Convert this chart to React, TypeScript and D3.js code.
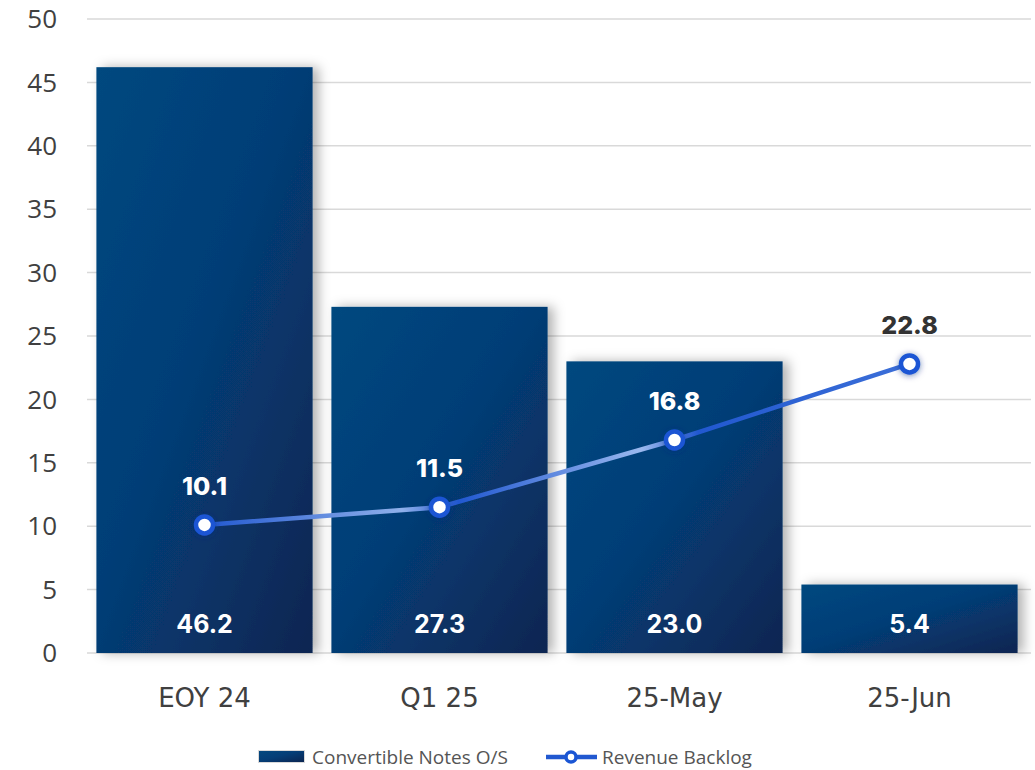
import React, { useRef, useEffect } from "react";
import * as d3 from "d3";

const categories = ["EOY 24", "Q1 25", "25-May", "25-Jun"];
const notesOS = [46.2, 27.3, 23.0, 5.4];
const revenueBacklog = [10.1, 11.5, 16.8, 22.8];
const yTicks = [0, 5, 10, 15, 20, 25, 30, 35, 40, 45, 50];

const App = () => {
  const svgRef = useRef<SVGSVGElement>(null);

  useEffect(() => {
    const svg = d3.select(svgRef.current);
    svg.selectAll("*").remove();

    const W = 1035;
    const H = 770;
    const margin = { top: 19, right: 8, bottom: 117, left: 87 };
    const height = H - margin.top - margin.bottom;

    const x = d3
      .scaleBand()
      .domain(categories)
      .range([margin.left, W - margin.right])
      .paddingInner(0.08)
      .paddingOuter(0.04);
    const y = d3.scaleLinear().domain([0, 50]).range([margin.top + height, margin.top]);

    const defs = svg.append("defs");
    const barGrad = defs
      .append("linearGradient")
      .attr("id", "barGrad")
      .attr("x1", "0")
      .attr("y1", "0")
      .attr("x2", "1")
      .attr("y2", "1");
    barGrad.append("stop").attr("offset", "0%").attr("stop-color", "#04487f");
    barGrad.append("stop").attr("offset", "45%").attr("stop-color", "#053e77");
    barGrad.append("stop").attr("offset", "100%").attr("stop-color", "#0b2551");

    const shadow = defs.append("filter").attr("id", "shadow").attr("x", "-20%").attr("y", "-20%").attr("width", "150%").attr("height", "140%");
    shadow.append("feDropShadow").attr("dx", 6).attr("dy", 0).attr("stdDeviation", 6).attr("flood-color", "#000").attr("flood-opacity", 0.3);

    const glow = defs.append("filter").attr("id", "glow").attr("x", "-100%").attr("y", "-100%").attr("width", "300%").attr("height", "300%");
    glow.append("feDropShadow").attr("dx", 0).attr("dy", 1).attr("stdDeviation", 3).attr("flood-color", "#0a2a80").attr("flood-opacity", 0.55);

    const lineGrad = defs
      .append("linearGradient")
      .attr("id", "lineGrad")
      .attr("gradientUnits", "userSpaceOnUse")
      .attr("x1", x(categories[0])! + x.bandwidth() / 2)
      .attr("x2", x(categories[3])! + x.bandwidth() / 2)
      .attr("y1", 0)
      .attr("y2", 0);
    [
      [0, "#2158d0"],
      [0.28, "#8fb0ea"],
      [0.36, "#2158d0"],
      [0.62, "#9ab8ee"],
      [0.7, "#2158d0"],
      [1, "#3c6fd8"],
    ].forEach(([o, c]) => lineGrad.append("stop").attr("offset", o as number).attr("stop-color", c as string));

    // gridlines
    svg
      .append("g")
      .selectAll("line")
      .data(yTicks)
      .join("line")
      .attr("x1", margin.left)
      .attr("x2", W - 4)
      .attr("y1", (d) => y(d))
      .attr("y2", (d) => y(d))
      .attr("stroke", "#d9d9d9")
      .attr("stroke-width", 1.5);

    // y labels
    svg
      .append("g")
      .selectAll("text")
      .data(yTicks)
      .join("text")
      .attr("x", 57)
      .attr("y", (d) => y(d))
      .attr("dy", "0.35em")
      .attr("text-anchor", "end")
      .attr("font-family", "'Open Sans', sans-serif")
      .attr("font-size", 26)
      .attr("fill", "#404040")
      .text((d) => d);

    // bars
    svg
      .append("g")
      .selectAll("rect")
      .data(notesOS)
      .join("rect")
      .attr("x", (d, i) => x(categories[i])!)
      .attr("y", (d) => y(d))
      .attr("width", x.bandwidth())
      .attr("height", (d) => y(0) - y(d))
      .attr("fill", "url(#barGrad)")
      .attr("filter", "url(#shadow)");

    // bar labels
    svg
      .append("g")
      .selectAll("text")
      .data(notesOS)
      .join("text")
      .attr("x", (d, i) => x(categories[i])! + x.bandwidth() / 2)
      .attr("y", y(0) - 20)
      .attr("text-anchor", "middle")
      .attr("font-family", "Inter, sans-serif")
      .attr("font-weight", 700)
      .attr("font-size", 25)
      .attr("fill", "#ffffff")
      .text((d) => d.toFixed(1));

    // x labels
    svg
      .append("g")
      .selectAll("text")
      .data(categories)
      .join("text")
      .attr("x", (d) => x(d)! + x.bandwidth() / 2)
      .attr("y", 707)
      .attr("text-anchor", "middle")
      .attr("font-family", "'DejaVu Sans', sans-serif")
      .attr("font-size", 26)
      .attr("fill", "#404040")
      .text((d) => d);

    // line
    const line = d3
      .line<number>()
      .x((d, i) => x(categories[i])! + x.bandwidth() / 2)
      .y((d) => y(d));
    svg
      .append("path")
      .datum(revenueBacklog)
      .attr("d", line)
      .attr("fill", "none")
      .attr("stroke", "url(#lineGrad)")
      .attr("stroke-width", 4.5);

    svg
      .append("g")
      .selectAll("circle")
      .data(revenueBacklog)
      .join("circle")
      .attr("cx", (d, i) => x(categories[i])! + x.bandwidth() / 2)
      .attr("cy", (d) => y(d))
      .attr("r", 8.5)
      .attr("fill", "#ffffff")
      .attr("stroke", "#1a55d4")
      .attr("stroke-width", 4.5)
      .attr("filter", "url(#glow)");

    svg
      .append("g")
      .selectAll("text")
      .data(revenueBacklog)
      .join("text")
      .attr("x", (d, i) => x(categories[i])! + x.bandwidth() / 2)
      .attr("y", (d) => y(d) - 30)
      .attr("text-anchor", "middle")
      .attr("font-family", "Inter, sans-serif")
      .attr("font-weight", 800)
      .attr("font-size", 25)
      .attr("fill", (d, i) => (revenueBacklog[i] > notesOS[i] ? "#333333" : "#ffffff"))
      .text((d) => d.toFixed(1));

    // legend
    const lg = svg.append("g").attr("font-family", "'Open Sans', sans-serif").attr("font-size", 19).attr("fill", "#555555");
    lg.append("rect").attr("x", 258).attr("y", 750).attr("width", 47).attr("height", 13).attr("fill", "#d9d9d9");
    lg.append("rect").attr("x", 259).attr("y", 751).attr("width", 45).attr("height", 11).attr("fill", "url(#barGrad)");
    lg.append("text").attr("x", 312).attr("y", 757).attr("dy", "0.35em").text("Convertible Notes O/S");
    lg.append("line").attr("x1", 546).attr("x2", 597).attr("y1", 757).attr("y2", 757).attr("stroke", "#2158d0").attr("stroke-width", 4.5);
    lg.append("circle").attr("cx", 571).attr("cy", 757).attr("r", 5).attr("fill", "#fff").attr("stroke", "#1a55d4").attr("stroke-width", 3.5);
    lg.append("text").attr("x", 602).attr("y", 757).attr("dy", "0.35em").text("Revenue Backlog");
  }, []);

  return <svg ref={svgRef} width={1035} height={770} style={{ position: "absolute", left: 0, top: 0 }}></svg>;
};

export default App;
